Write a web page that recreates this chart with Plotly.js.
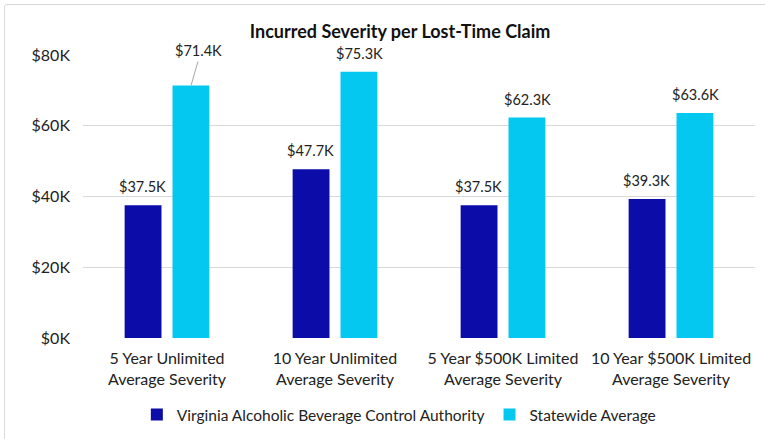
<!DOCTYPE html>
<html><head><meta charset="utf-8">
<script src="https://cdn.plot.ly/plotly-3.0.1.min.js"></script>
<style>
html,body{margin:0;padding:0;background:#fff;}
#frame{position:absolute;left:4px;top:4px;width:770px;height:445px;border:1px solid #d9d9d9;border-radius:3px;}
#chart{position:absolute;left:0;top:0;width:765px;height:439px;}
</style></head>
<body>
<div id="frame"></div>
<div id="chart"></div>
<script>
const categories = ["5 Year Unlimited<br>Average Severity","10 Year Unlimited<br>Average Severity","5 Year $500K Limited<br>Average Severity","10 Year $500K Limited<br>Average Severity"];
const seriesNames = ["Virginia Alcoholic Beverage Control Authority","Statewide Average"];
const vabcValues = [37.5, 47.7, 37.5, 39.3];
const stateValues = [71.4, 75.3, 62.3, 63.6];
const yTickVals = [0,20,40,60,80];
const yTickText = ["$0K","$20K","$40K","$60K","$80K"];
const colors = ["#0c0ca8","#05c8f0"];
const fmt = v => "$" + v.toFixed(1) + "K";

const traces = [
  {type:'bar', name:seriesNames[0], x:categories, y:vabcValues, marker:{color:colors[0]}, hoverinfo:'none'},
  {type:'bar', name:seriesNames[1], x:categories, y:stateValues, marker:{color:colors[1]}, hoverinfo:'none'}
];

const off = 0.143;
const lblFont = {size:14.5,color:'#222'};
const annotations = [];
vabcValues.forEach((v,i)=>annotations.push({x:i-off, y:v, xref:'x', yref:'y', text:fmt(v), showarrow:false, yanchor:'bottom', yshift:8, font:lblFont}));
stateValues.forEach((v,i)=>{
  if(i===0){
    annotations.push({x:i+off, y:v, xref:'x', yref:'y', text:fmt(v), showarrow:true, arrowhead:0, arrowwidth:1, arrowcolor:'#a6a6a6', ax:7, ay:-24, standoff:0, yanchor:'bottom', font:lblFont});
  } else {
    annotations.push({x:i+off, y:v, xref:'x', yref:'y', text:fmt(v), showarrow:false, yanchor:'bottom', yshift:8, font:lblFont});
  }
});

const layout = {
  width:765, height:439,
  margin:{l:83, r:10, t:55, b:101, autoexpand:false},
  paper_bgcolor:'rgba(0,0,0,0)', plot_bgcolor:'rgba(0,0,0,0)',
  font:{family:'Lato, "Open Sans", sans-serif', size:15, color:'#222'},
  title:{text:'<b>Incurred Severity per Lost-Time Claim</b>', x:0.523, xref:'container', xanchor:'center', y:0.927, yref:'container', yanchor:'middle', font:{size:18, color:'#111'}},
  barmode:'group', bargap:0.43, bargroupgap:0.23,
  xaxis:{type:'category', automargin:false, showgrid:false, zeroline:false, showline:false, ticks:'', tickfont:{size:16}, ticklabelstandoff:9},
  yaxis:{range:[0,80], automargin:false, tickvals:yTickVals, ticktext:yTickText, showgrid:true, gridcolor:'#d9d9d9', gridwidth:1, zeroline:false, showline:false, ticks:'', tickfont:{size:16}, ticklabelstandoff:12},
  showlegend:true,
  legend:{orientation:'h', x:0.47, xanchor:'center', y:-0.272, yanchor:'middle', font:{size:15.5}, itemwidth:30, traceorder:'normal'},
  annotations:annotations
};
Plotly.newPlot('chart', traces, layout, {displayModeBar:false, staticPlot:true});
</script>
</body></html>
